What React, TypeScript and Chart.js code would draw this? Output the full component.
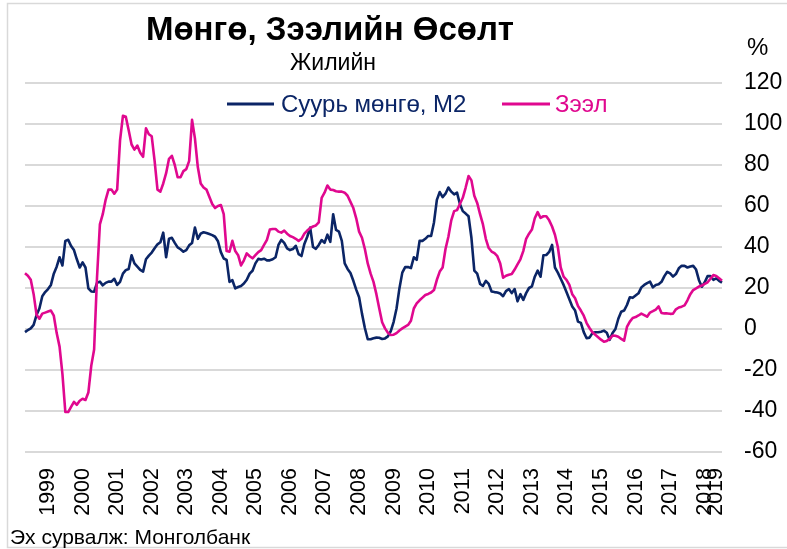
import React, { useEffect, useRef } from "react";
import { Chart, registerables } from "chart.js";

Chart.register(...registerables);

const FONT = "'Liberation Sans', Arial, sans-serif";

const TITLE = "Мөнгө, Зээлийн Өсөлт";
const SUBTITLE = "Жилийн";
const SOURCE = "Эх сурвалж: Монголбанк";
const UNIT = "%";
const SERIES_NAMES = ["Суурь мөнгө, М2", "Зээл"];
const COLORS = ["#0b2566", "#e0088f"];

const START_YEAR = 1998;
const START_MONTH = 5;
const LAST_TICK_LABEL = "2019";

const Y_MIN = -60;
const Y_MAX = 120;
const Y_STEP = 20;

// Base money / M2, yoy %, monthly from May 1998
const m2 = [
  -1.5, -0.5, 0.3, 2, 6.8, 10, 16, 18,
  19.5, 21.5, 27, 30.4, 35, 31, 43, 43.5, 40.5, 38.5, 34, 30,
  32.5, 30, 19.8, 18.3, 18.2, 22.5, 23.1, 21.3, 22.5, 23.1, 23.1, 24.5,
  21.5, 23, 27, 28.7, 29.3, 36, 32, 30.4, 28.8, 28, 34, 35.8,
  37.3, 39.4, 41.3, 42.3, 47, 35, 44, 44.5, 42, 39.8, 38.9, 37.7,
  38.5, 40.8, 42, 49.5, 44, 46.5, 47.2, 46.8, 46.3, 45.8, 45, 42.8,
  37.5, 34.4, 33.7, 23, 23.8, 19.8, 20.5, 21, 22.2, 24, 27, 28.4,
  32, 34.2, 33.9, 34.3, 33.5, 33.5, 34, 35, 41, 43.5, 42, 39.3,
  38.5, 39, 40.6, 36.5, 35.6, 41.5, 45, 49.5, 40, 39.1, 41, 43.4,
  42, 46, 42.5, 56, 48.3, 47.5, 43, 32, 29.3, 27.3, 23.5, 19.2,
  15.5, 7.5, 0.5, -5, -5, -4.5, -4.2, -4.3, -4.9, -4.6, -3.6, -1,
  3.5, 10, 19.8, 27.5, 30.2, 30.2, 29.7, 35, 33.7, 43, 43, 44,
  45.4, 45.4, 52, 63, 66.8, 64.3, 66, 69, 67, 65.7, 66.5, 61,
  57.5, 56.3, 55, 44.5, 28.5, 27, 22, 21, 23.5, 22, 18.3, 18,
  17.8, 17.3, 16, 18.5, 19.5, 17.5, 19.5, 13.5, 17, 14.2, 17.5, 20,
  20.8, 25.5, 28.5, 25.5, 36, 36.1, 37.6, 41, 30, 27.5, 24.5, 21.5,
  18, 14.5, 11, 9, 3.6, 3, -1.5, -4.5, -4.2, -2, -1.6, -1.6,
  -1.3, -0.8, -1.8, -5.3, -2, 0, 5, 8.4, 9, 11.7, 15.5, 15.2,
  16.3, 17.4, 20.3, 21.5, 22.4, 23.1, 20.3, 21.5, 21.8, 23, 25.8, 27.9,
  27.1, 25.6, 26.8, 29.6, 30.8, 30.8, 30, 30.5, 30.8, 29, 23.8, 20.6,
  22.8, 25.8, 25.8, 24, 24.7, 23.5, 22.6,
];

// Credit (loans), yoy %, monthly from May 1998
const credit = [
  27.2, 26, 24, 17, 7, 5, 7.5, 8,
  8.5, 9, 6.5, -2, -8.6, -22, -40.5, -40.5, -38, -35.5, -37, -35,
  -34, -34.6, -31, -18, -10, 25, 51, 56, 63, 68, 68, 66,
  68, 92, 104, 103.5, 97, 90, 87.5, 89.5, 86, 84, 97.9, 95,
  94, 82, 68, 67, 71, 76, 83, 84.5, 80, 74, 74, 77,
  78, 82, 102, 93, 79, 71, 69, 68, 64.5, 61, 59, 60,
  60.5, 56, 38, 37.7, 43, 38, 36, 31, 33.5, 36.9, 35.5, 34.5,
  36, 37.5, 38.5, 41, 43.5, 48.5, 48.8, 48.8, 47.5, 47, 48, 46.5,
  45.4, 44.8, 44, 43, 44, 46.5, 48, 49.2, 50, 50.5, 52, 64,
  66.5, 70, 68, 67.8, 67.2, 67, 67, 66.5, 65, 62, 59, 54,
  47.5, 44.5, 39, 32, 27, 23, 17, 10, 3.3, 0.3, -1.8, -2.9,
  -2.8, -2, -0.7, 0.3, 1.2, 2, 4, 10, 12.5, 14, 15.3, 16.6,
  17.1, 17.8, 19, 24, 28, 30, 39, 45, 53, 57.5, 58, 61,
  64, 69, 74.6, 72.5, 65, 61.5, 56, 51, 44, 39.5, 37.8, 37,
  35.5, 32, 25, 26, 26.5, 26.8, 29, 31.5, 34, 38, 44, 46.5,
  48.5, 54, 57, 54.2, 55, 55, 53, 50, 46, 40, 30, 25.5,
  24, 21.5, 17, 15, 11.2, 9, 6.5, 2.9, 0.5, -1.6, -2.8, -4,
  -5.2, -6.2, -5.8, -4.8, -3.2, -3.3, -3.8, -4.8, -5.7, 1, 3.6, 5.4,
  5.8, 6.6, 7.5, 6.8, 6, 8, 8.7, 9.5, 11, 7.8, 7.6, 7.6,
  7.4, 7.5, 9.6, 10.5, 10.9, 11.5, 14, 17, 19, 19.8, 20.7, 21.2,
  22, 22.8, 24.5, 26.3, 25.9, 24.8, 23.6,
];

const months = m2.map((_, i) => {
  const t = START_MONTH - 1 + i;
  const y = START_YEAR + Math.floor(t / 12);
  const m = (t % 12) + 1;
  return `${y}-${String(m).padStart(2, "0")}`;
});

const decorPlugin = {
  id: "decor",
  afterDraw(chart: any) {
    const ctx = chart.ctx;
    ctx.save();
    // frame (left, top, bottom)
    ctx.strokeStyle = "#d9d9d9";
    ctx.lineWidth = 1.5;
    ctx.beginPath();
    ctx.moveTo(787, 3.5);
    ctx.lineTo(7.5, 3.5);
    ctx.lineTo(7.5, 547.5);
    ctx.lineTo(787, 547.5);
    ctx.stroke();

    ctx.fillStyle = "#000";
    ctx.textBaseline = "alphabetic";
    ctx.textAlign = "center";
    ctx.font = `bold 33px ${FONT}`;
    ctx.fillText(TITLE, 330, 40);
    ctx.font = `23px ${FONT}`;
    ctx.fillText(SUBTITLE, 333, 70);

    ctx.textAlign = "left";
    ctx.font = `24px ${FONT}`;
    ctx.fillText(UNIT, 747, 55);

    // legend
    const items = [
      { x1: 227, x2: 274, tx: 281 },
      { x1: 502, x2: 550, tx: 555 },
    ];
    ctx.font = `24px ${FONT}`;
    items.forEach((it, k) => {
      ctx.strokeStyle = COLORS[k];
      ctx.lineWidth = 3;
      ctx.beginPath();
      ctx.moveTo(it.x1, 104);
      ctx.lineTo(it.x2, 104);
      ctx.stroke();
      ctx.fillStyle = COLORS[k];
      ctx.fillText(SERIES_NAMES[k], it.tx, 112);
    });

    ctx.fillStyle = "#000";
    ctx.font = `21px ${FONT}`;
    ctx.fillText(SOURCE, 10, 544);
    ctx.restore();
  },
};

export default function App() {
  const ref = useRef<HTMLCanvasElement>(null);
  useEffect(() => {
    if (!ref.current) return;
    const n = months.length;
    const chart = new Chart(ref.current, {
      type: "line",
      data: {
        labels: months,
        datasets: [
          {
            label: SERIES_NAMES[0],
            data: m2,
            borderColor: COLORS[0],
            borderWidth: 2.6,
            pointRadius: 0,
            tension: 0,
            borderJoinStyle: "round",
            order: 1,
          },
          {
            label: SERIES_NAMES[1],
            data: credit,
            borderColor: COLORS[1],
            borderWidth: 2.6,
            pointRadius: 0,
            tension: 0,
            borderJoinStyle: "round",
            order: 0,
          },
        ],
      },
      options: {
        responsive: false,
        animation: false,
        devicePixelRatio: 1,
        layout: { padding: { left: 25, top: 83, right: 0, bottom: 0 } },
        plugins: {
          legend: { display: false },
          title: { display: false },
          tooltip: { enabled: false },
        },
        scales: {
          x: {
            type: "category",
            grid: { display: false, drawTicks: false },
            border: { display: false },
            afterFit: (s: any) => {
              s.height = 97;
            },
            ticks: {
              autoSkip: false,
              maxRotation: 90,
              minRotation: 90,
              padding: 16,
              color: "#000",
              font: { family: FONT, size: 21.5 },
              callback: function (this: any, value: any, index: number) {
                const lab = months[index];
                if (index === n - 3) return LAST_TICK_LABEL;
                if (lab.endsWith("-01")) return lab.slice(0, 4);
                return "";
              },
            },
          },
          y: {
            position: "right",
            min: Y_MIN,
            max: Y_MAX,
            afterFit: (s: any) => {
              s.width = 65;
            },
            grid: { color: "#d9d9d9", lineWidth: 2, drawTicks: false },
            border: { display: false },
            ticks: {
              stepSize: Y_STEP,
              padding: 22,
              color: "#000",
              font: { family: FONT, size: 23 },
            },
          },
        },
      },
      plugins: [decorPlugin],
    });
    return () => chart.destroy();
  }, []);
  return (
    <div style={{ position: "absolute", left: 0, top: 0, width: 787, height: 549, background: "#fff" }}>
      <canvas ref={ref} width={787} height={549} style={{ display: "block" }} />
    </div>
  );
}
